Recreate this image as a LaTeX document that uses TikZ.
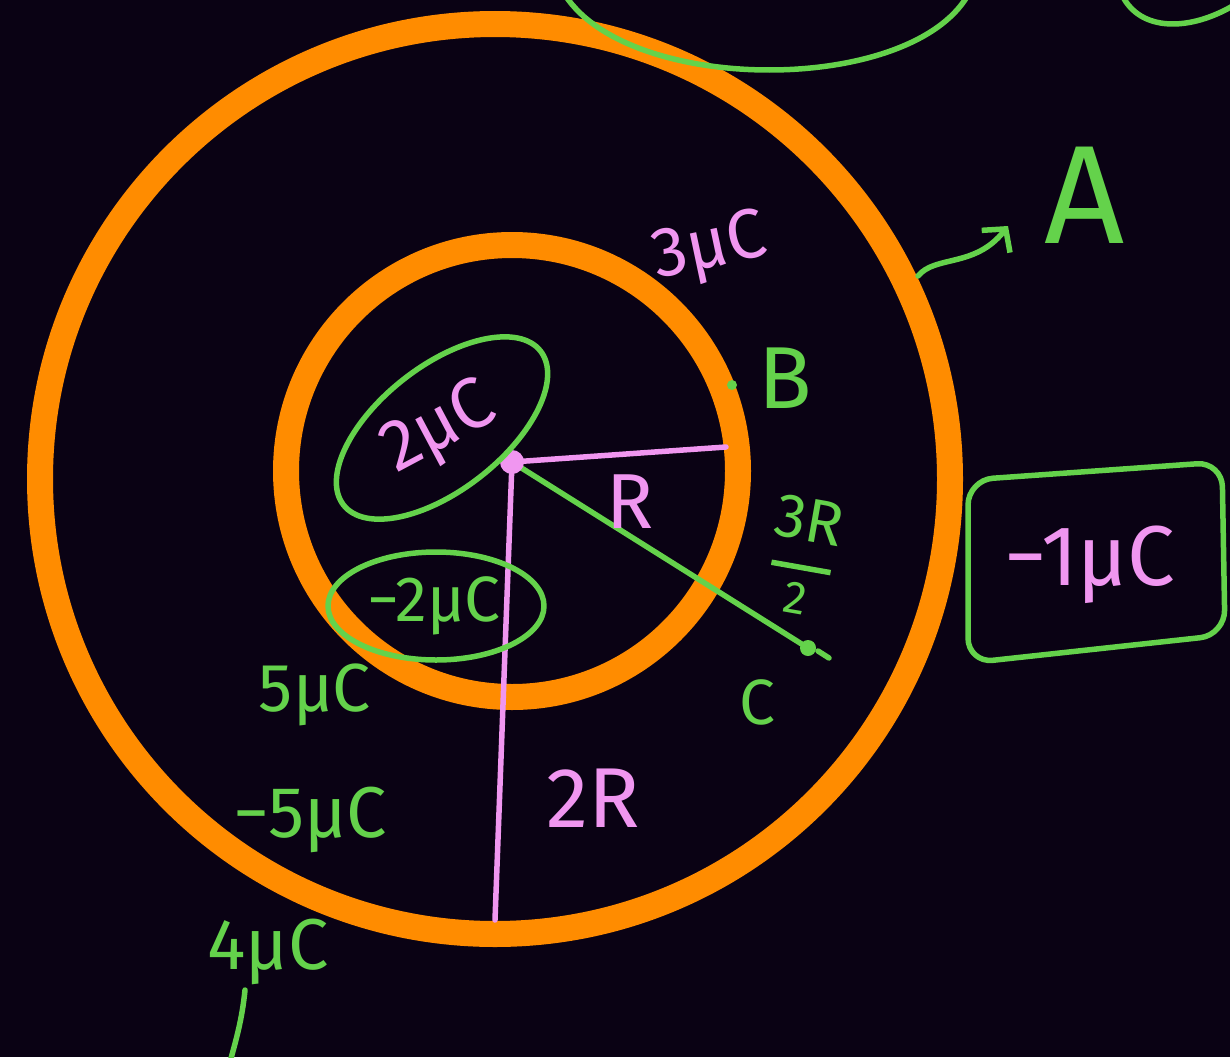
\documentclass[tikz,border=0pt]{standalone}
\usepackage{fontspec}
\setmainfont{Fira Sans}
\usetikzlibrary{arrows.meta}
\definecolor{bgdark}{RGB}{10,2,20}
\definecolor{ringorange}{RGB}{255,140,0}
\definecolor{chalkgreen}{RGB}{100,210,75}
\definecolor{chalkpink}{RGB}{240,150,240}
\newcommand{\fsz}[1]{\fontsize{#1}{#1}\selectfont}
\begin{document}
\begin{tikzpicture}[x=1pt,y=-1pt,>={Straight Barb[length=16pt,width=36pt]}, line join=round, line cap=round,
  ring/.style={draw=ringorange,line width=26pt},
  pinkline/.style={draw=chalkpink,line width=5.5pt},
  greenline/.style={draw=chalkgreen,line width=5.5pt},
  pinklabel/.style={text=chalkpink,inner sep=0pt},
  greenlabel/.style={text=chalkgreen,inner sep=0pt}]
  \useasboundingbox (0,0) rectangle (1230,1057);
  \clip (0,0) rectangle (1230,1057);
  \fill[bgdark] (0,0) rectangle (1230,1057);
  % the two shells
  \draw[ring] (495,479) circle (455);
  \draw[ring] (512,471) circle (226);
  % scribbles at the top
  \draw[greenline] (565,-5) .. controls (630,95) and (910,95) .. (968,-5);
  \draw[greenline] (1122,-5) .. controls (1140,32) and (1190,32) .. (1236,4);
  % radii
  \coordinate (O) at (512,462);
  \coordinate (Rin) at (726,447);
  \coordinate (Rout) at (495,920);
  \coordinate (Cpt) at (808,648);
  \draw[greenline] (O) -- (Cpt);
  \draw[pinkline] (O) -- (Rin);
  \draw[pinkline] (O) -- (Rout);
  \fill[chalkpink] (O) circle (12);
  \fill[chalkgreen] (Cpt) circle (8);
  \draw[greenline] (818,651) -- (829,658);
  \fill[chalkgreen] (732,385) circle (5);
  % charges inside
  \node[pinklabel,font=\fsz{72},rotate=28] (qin) at (440,430) {2μC};
  \draw[greenline,rotate around={38:(442,428)}] (442,428) ellipse (125 and 62);
  \node[greenlabel,font=\fsz{64}] (qinner) at (434,606) {−2μC};
  \draw[greenline] (436,606) ellipse (108 and 54);
  % labels
  \node[pinklabel,font=\fsz{70},rotate=12] (qsurf) at (710,250) {3μC};
  \node[greenlabel,font=\fsz{88}] (B) at (785,378) {B};
  \node[pinklabel,font=\fsz{78}] (R) at (630,502) {R};
  \node[greenlabel,font=\fsz{62},align=center,rotate=-10] (half) at (803,556)
    {3R\\[-32pt]\rule{60pt}{5.5pt}\\[-18pt]{\fsz{46}2}};
  \node[greenlabel,font=\fsz{64}] (C) at (757,702) {C};
  \node[greenlabel,font=\fsz{140}] (A) at (1085,195) {A};
  \coordinate (Aroot) at (918,276);
  \coordinate (Atip) at (1008,226);
  \draw[greenline,->] (Aroot) .. controls (935,255) and (975,268) .. (Atip);
  \node[pinklabel,font=\fsz{85}] (qout) at (1090,565) {−1μC};
  \draw[greenline,rounded corners=25] (968,480) -- (1222,462) -- (1225,635) -- (968,663) -- cycle;
  \node[greenlabel,font=\fsz{68}] (q5) at (315,695) {5μC};
  \node[greenlabel,font=\fsz{72}] (qm5) at (310,820) {−5μC};
  \node[greenlabel,font=\fsz{72}] (q4) at (268,952) {4μC};
  \draw[greenline] (245,990) .. controls (242,1020) and (236,1040) .. (230,1062);
  \node[pinklabel,font=\fsz{85}] (len) at (593,798) {2R};
\end{tikzpicture}
\end{document}
